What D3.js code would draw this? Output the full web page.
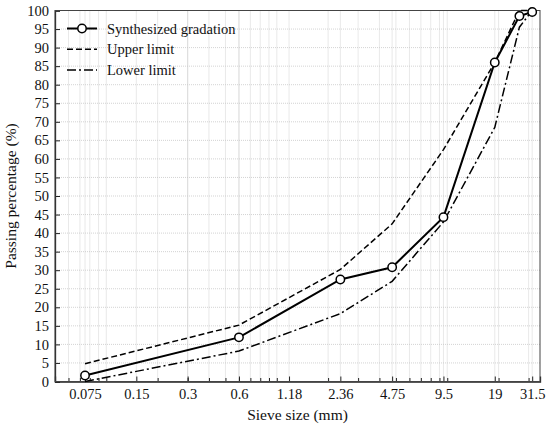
<!DOCTYPE html>
<html>
<head>
<meta charset="utf-8">
<script src="https://cdn.jsdelivr.net/npm/d3@7"></script>
<style>
  body { margin: 0; background: #fff; }
  svg { display: block; font-family: "Liberation Serif", "Times New Roman", serif; }
</style>
</head>
<body>
<svg id="chart" width="550" height="427"></svg>
<script>
// sieve sizes (mm) and passing percentages
const sieves = [0.075, 0.6, 2.36, 4.75, 9.5, 19, 26.5, 31.5];
const synthesized = [1.6, 11.9, 27.5, 30.8, 44.3, 86, 98.5, 99.6];
const upperLimit = [4.8, 15.2, 30.2, 42.5, 62.5, 86, 100, 100];
const lowerLimit = [0, 8.2, 18.3, 27, 43, 68.5, 95.5, 100];

const tickLabels = [0.075, 0.15, 0.3, 0.6, 1.18, 2.36, 4.75, 9.5, 19, 31.5];
const yTicks = d3.range(0, 101, 5);

const svg = d3.select("#chart");
const margin = {top: 10.5, right: 10, bottom: 45.5, left: 55};
const width = 550 - margin.left - margin.right;
const height = 427 - margin.top - margin.bottom;

const x = d3.scaleLog().domain([0.05, 35]).range([0, width]);
const y = d3.scaleLinear().domain([0, 100]).range([height, 0]);

const g = svg.append("g").attr("transform", `translate(${margin.left},${margin.top})`);

// minor log positions 1..9 x 10^n inside the domain
const minor = [];
[0.01, 0.1, 1, 10].forEach(dec => {
  for (let i = 1; i <= 9; i++) {
    const v = +(i * dec).toPrecision(3);
    if (v > 0.05 && v < 35) minor.push(v);
  }
});

// grid
g.append("g").selectAll("line.vg")
  .data(minor.concat(tickLabels))
  .enter().append("line")
  .attr("x1", d => x(d)).attr("x2", d => x(d))
  .attr("y1", 0).attr("y2", height)
  .attr("stroke", "#c8c8c8").attr("stroke-width", 0.8)
  .attr("stroke-dasharray", "1,1");

g.append("g").selectAll("line.hg")
  .data(yTicks.slice(1, -1))
  .enter().append("line")
  .attr("x1", 0).attr("x2", width)
  .attr("y1", d => y(d)).attr("y2", d => y(d))
  .attr("stroke", "#c8c8c8").attr("stroke-width", 0.8)
  .attr("stroke-dasharray", "1,1");

// axes, ticks pointing inward
const xMinor = d3.axisBottom(x).tickValues(minor).tickSize(-3.5).tickFormat("");
const xAxis = d3.axisBottom(x).tickValues(tickLabels).tickSize(-5).tickPadding(7)
  .tickFormat(d => d3.format("")(d));
const yAxis = d3.axisLeft(y).tickValues(yTicks).tickSize(-5).tickPadding(6);

g.append("g").attr("transform", `translate(0,${height})`).call(xMinor)
  .call(a => a.select(".domain").remove());
const gx = g.append("g").attr("transform", `translate(0,${height})`).call(xAxis);
const gy = g.append("g").call(yAxis);

[gx, gy].forEach(a => {
  a.attr("font-family", null);
  a.selectAll("text").attr("font-size", 14.5).attr("fill", "#111")
    .attr("font-family", "Liberation Serif, serif");
  a.select(".domain").attr("stroke", "#222").attr("stroke-width", 1.3);
});
g.selectAll(".tick line").attr("stroke", "#222").attr("stroke-width", 1);

// frame top and right
g.append("rect").attr("width", width).attr("height", height)
  .attr("fill", "none").attr("stroke", "#444").attr("stroke-width", 1);

// axis titles
svg.append("text")
  .attr("x", margin.left + width / 2).attr("y", 420)
  .attr("text-anchor", "middle").attr("font-size", 15.5).attr("fill", "#111")
  .text("Sieve size (mm)");

svg.append("text")
  .attr("transform", `translate(16,${margin.top + height / 2}) rotate(-90)`)
  .attr("text-anchor", "middle").attr("font-size", 15.5).attr("fill", "#111")
  .text("Passing percentage (%)");

// lines
const line = d3.line().x(d => x(d[0])).y(d => y(d[1]));
const series = [
  {name: "Synthesized gradation", vals: synthesized, dash: null, w: 2},
  {name: "Upper limit", vals: upperLimit, dash: "6,3", w: 1.5},
  {name: "Lower limit", vals: lowerLimit, dash: "9,3,2,3", w: 1.5}
];

series.slice().reverse().forEach(s => {
  g.append("path")
    .datum(sieves.map((v, i) => [v, s.vals[i]]))
    .attr("d", line)
    .attr("fill", "none").attr("stroke", "#000")
    .attr("stroke-width", s.w)
    .attr("stroke-dasharray", s.dash);
});

g.append("g").selectAll("circle")
  .data(sieves.map((v, i) => [v, synthesized[i]]))
  .enter().append("circle")
  .attr("cx", d => x(d[0])).attr("cy", d => y(d[1])).attr("r", 4.2)
  .attr("fill", "#fff").attr("stroke", "#000").attr("stroke-width", 1.5);

// legend
const legend = g.append("g").attr("transform", "translate(12,18)");
series.forEach((s, i) => {
  const row = legend.append("g").attr("transform", `translate(0,${i * 20.7})`);
  row.append("line").attr("x1", 0).attr("x2", 30)
    .attr("stroke", "#000").attr("stroke-width", s.w).attr("stroke-dasharray", s.dash);
  if (i === 0) {
    row.append("circle").attr("cx", 15).attr("r", 4.2)
      .attr("fill", "#fff").attr("stroke", "#000").attr("stroke-width", 1.5);
  }
  row.append("text").attr("x", 40).attr("y", 5)
    .attr("font-size", 14.5).attr("fill", "#111").text(s.name);
});
</script>
</body>
</html>
